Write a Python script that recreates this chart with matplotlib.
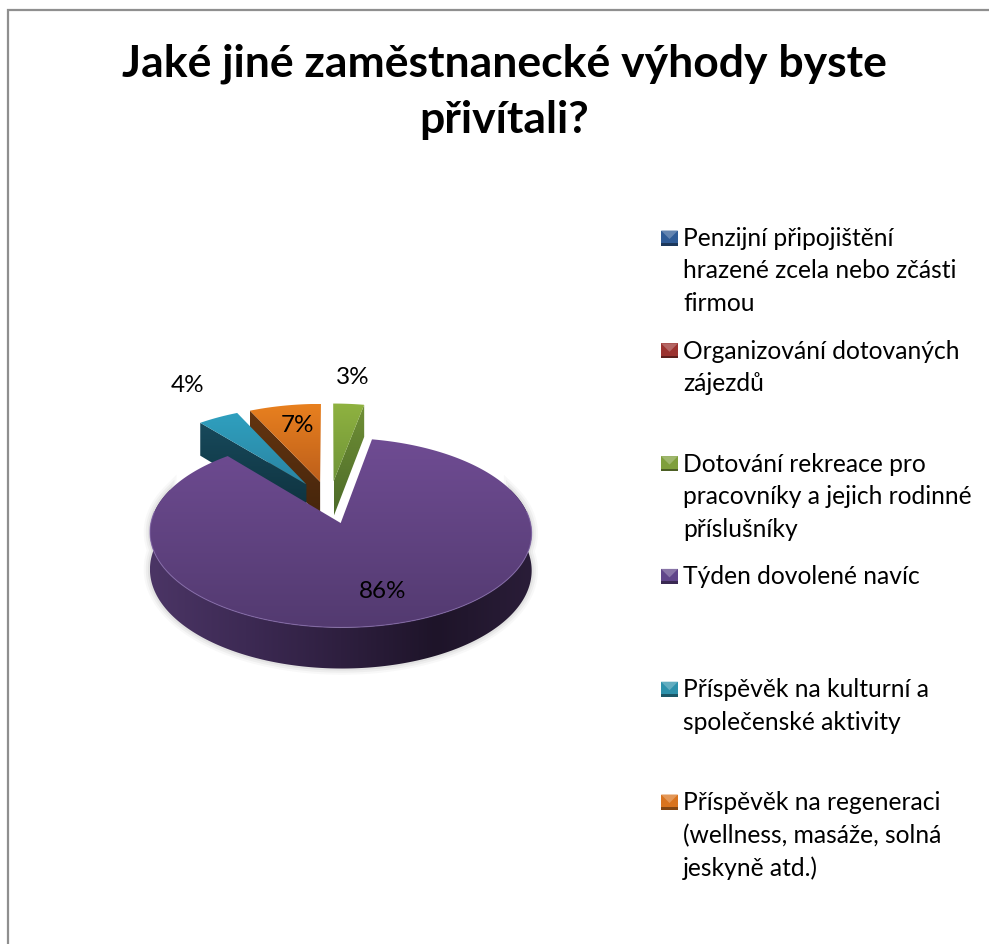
import numpy as np
import matplotlib
matplotlib.use("Agg")
import matplotlib.pyplot as plt
from matplotlib.colors import LinearSegmentedColormap, to_rgb
from matplotlib.patches import Polygon, Rectangle

plt.rcParams["font.family"] = ["Lato", "DejaVu Sans"]

# Survey results, percent of respondents
categories = [
    "Penzijní připojištění\nhrazené zcela nebo zčásti\nfirmou",
    "Organizování dotovaných\nzájezdů",
    "Dotování rekreace pro\npracovníky a jejich rodinné\npříslušníky",
    "Týden dovolené navíc",
    "Příspěvěk na kulturní a\nspolečenské aktivity",
    "Příspěvěk na regeneraci\n(wellness, masáže, solná\njeskyně atd.)",
]
values = [0, 0, 3, 86, 4, 7]
title_text = "Jaké jiné zaměstnanecké výhody byste\npřivítali?"

legend_colors = ["#2f5b96", "#9b3330", "#7f9f3c", "#60458a", "#2d91ab", "#d9741f"]
top_colors = {
    2: ("#8fb240", "#6f9438"),
    3: ("#6f4c93", "#533a70"),
    4: ("#2fa0bf", "#2a84a2"),
    5: ("#e8801f", "#bd5f1b"),
}
cut_colors = {
    2: ("#6f8f35", "#4c6a29"),
    4: ("#17495b", "#0e303c"),
    5: ("#643510", "#45250c"),
}
rim_stops = ["#4b3565", "#3d2a54", "#2e1f3f", "#1e1429", "#2a1d38"]
# Slice-specific label anchors, in pixels
label_anchor = {2: (353, 378), 3: (383, 592), 4: (188, 386), 5: (297, 426)}

# Projection of the tilted pie
CX, CY = 329.5, 502.0
RADIUS, TILT, PERSPECTIVE, THICKNESS, EXPLODE = 185.5, 89.5, 0.10, 36.0, 0.237


def project(px, py, z=0.0):
    scale = 1.0 / (1.0 + PERSPECTIVE * py)
    return CX + RADIUS * px * scale, CY - TILT * py * scale + THICKNESS * z * scale


def slice_outline(a0, a1, mid, z=0.0):
    ex, ey = EXPLODE * np.sin(mid), EXPLODE * np.cos(mid)
    th = np.linspace(a0, a1, 300)
    xs, ys = project(ex + np.sin(th), ey + np.cos(th), z)
    ax0, ay0 = project(ex, ey, z)
    return np.r_[ax0, xs], np.r_[ay0, ys], (ex, ey)


def gradient_fill(ax, xy, colors, horizontal=False, zorder=1):
    poly = Polygon(xy, closed=True, facecolor="none", edgecolor="none", zorder=zorder)
    ax.add_patch(poly)
    x0, x1 = xy[:, 0].min(), xy[:, 0].max()
    y0, y1 = xy[:, 1].min(), xy[:, 1].max()
    cmap = LinearSegmentedColormap.from_list("g", colors)
    ramp = np.linspace(0, 1, 256)
    ramp = ramp[None, :] if horizontal else ramp[:, None]
    im = ax.imshow(ramp, cmap=cmap, extent=(x0, x1, y1, y0), origin="upper",
                   aspect="auto", zorder=zorder, interpolation="bilinear")
    im.set_clip_path(poly)


fig = plt.figure(figsize=(9.89, 9.44), dpi=100, facecolor="white")
ax = fig.add_axes([0, 0, 1, 1])
ax.set_xlim(0, 989)
ax.set_ylim(944, 0)
ax.axis("off")

# Chart frame
ax.add_patch(Rectangle((8, 10), 1000, 1000, facecolor="white", edgecolor="#8f8f8f", lw=1.6, zorder=0))

ax.text(504, 92, title_text, ha="center", va="center", fontsize=32, fontweight="bold",
        color="black", linespacing=1.5, zorder=10)

# Slice angles run clockwise from twelve o'clock
fractions = np.array(values, dtype=float) / sum(values)
edges = np.r_[0, np.cumsum(fractions)] * 2 * np.pi

# Back slices first, the large front slice last
for layer, idx in enumerate((2, 5, 4, 3), start=1):
    a0, a1 = edges[idx], edges[idx + 1]
    mid = (a0 + a1) / 2
    xt, yt, (ex, ey) = slice_outline(a0, a1, mid)

    if idx == 3:
        th = np.linspace(a0, a1, 400)
        mask = (ey + np.cos(th)) < 0.15
        rx, ry = project(ex + np.sin(th[mask]), ey + np.cos(th[mask]))
        rx2, ry2 = project(ex + np.sin(th[mask]), ey + np.cos(th[mask]), 1.0)
        rim = np.c_[np.r_[rx, rx2[::-1]], np.r_[ry, ry2[::-1]]]
        # Soft ground shadow hugging the rim
        for grow, alpha in ((9, 0.04), (6, 0.06), (3, 0.08)):
            ax.add_patch(Polygon(rim, closed=True, fc="none", ec="#555555", lw=grow,
                                 alpha=alpha, zorder=layer))
        gradient_fill(ax, rim, rim_stops, horizontal=True, zorder=layer + 0.1)
    else:
        # Visible cut face of the exploded wedge
        edge = a1 if idx == 2 else a0
        px, py = ex + np.sin(edge), ey + np.cos(edge)
        c0, c1 = project(ex, ey), project(px, py)
        c2, c3 = project(px, py, 1.0), project(ex, ey, 1.0)
        gradient_fill(ax, np.array([c0, c1, c2, c3]), cut_colors[idx], zorder=layer + 0.1)

    top = np.c_[xt, yt]
    gradient_fill(ax, top, top_colors[idx], zorder=layer + 0.2)
    if idx == 3:
        # White seam beside the green wedge, faint highlight along the near arc
        ax.plot([xt[1], xt[0]], [yt[1], yt[0]], color="white", lw=2.6,
                solid_capstyle="projecting", zorder=layer + 0.15)
        near = (ey + np.cos(np.linspace(a0, a1, 300))) < -0.1
        ax.plot(xt[1:][near], yt[1:][near], color="#8a6fb0", lw=0.8, alpha=0.7, zorder=layer + 0.3)

# Percent labels
for idx, (lx, ly) in label_anchor.items():
    ax.text(lx, ly, f"{values[idx]}%", ha="center", va="center", fontsize=17.5,
            color="black", zorder=12)

# Legend with bevelled swatches
LEG_X, LEG_Y, LEG_STEP, SW_W, SW_H = 661, 238, 112.8, 17, 15
for i, (name, colour) in enumerate(zip(categories, legend_colors)):
    y = LEG_Y + i * LEG_STEP
    base = to_rgb(colour)
    light = tuple(min(1, c * 0.75 + 0.25) for c in base)
    dark = tuple(c * 0.6 for c in base)
    top_y, bot_y = y - SW_H / 2, y + SW_H / 2
    ax.add_patch(Rectangle((LEG_X, top_y), SW_W, SW_H, facecolor=base, edgecolor="none", zorder=11))
    ax.add_patch(Polygon([(LEG_X, top_y), (LEG_X + SW_W, top_y), (LEG_X + SW_W / 2, y + 1)],
                         facecolor=light, edgecolor="none", zorder=11.1))
    ax.add_patch(Rectangle((LEG_X, bot_y - 2.5), SW_W, 2.5, facecolor=dark, edgecolor="none", zorder=11.1))
    ax.text(683, y - 11, name, ha="left", va="top", fontsize=17.7, color="black",
            linespacing=1.5, zorder=12)

ax.set_xlim(0, 989)
ax.set_ylim(944, 0)
fig.savefig("out.png", dpi=100, facecolor="white")
